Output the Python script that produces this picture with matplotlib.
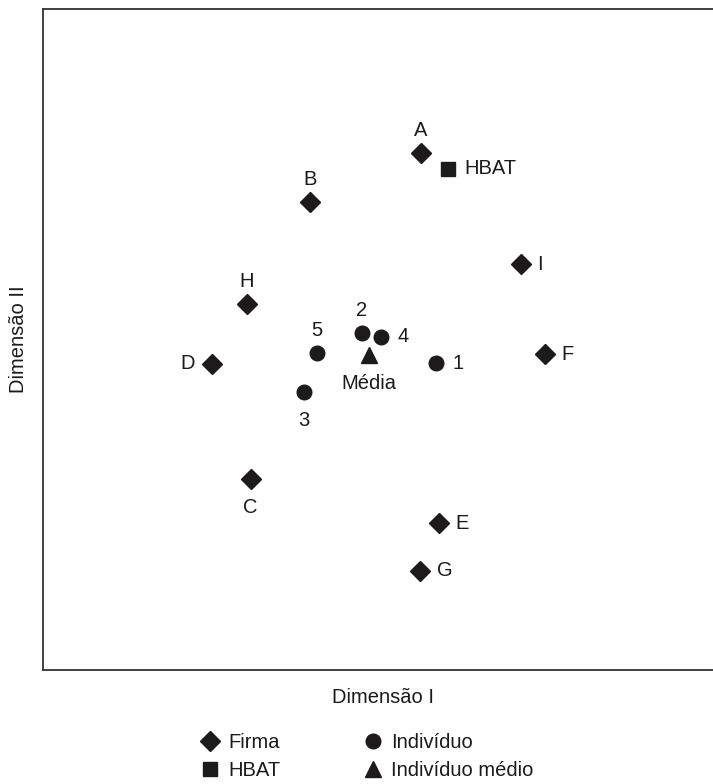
import matplotlib
matplotlib.use('Agg')
import matplotlib.pyplot as plt
from matplotlib.lines import Line2D

plt.rcParams['font.family'] = ['Liberation Sans', 'DejaVu Sans']

# Firm positions (perceptual map)
firm_names = ['A', 'B', 'C', 'D', 'E', 'F', 'G', 'H', 'I']
firm_x = [5.64, 3.99, 3.10, 2.52, 5.91, 7.49, 5.63, 3.04, 7.13]
firm_y = [7.82, 7.08, 2.89, 4.63, 2.22, 4.78, 1.50, 5.54, 6.14]

# HBAT
hbat_x = [6.04]
hbat_y = [7.58]

# Individuals
indiv_names = ['1', '2', '3', '4', '5']
indiv_x = [5.87, 4.76, 3.90, 5.04, 4.09]
indiv_y = [4.64, 5.10, 4.21, 5.04, 4.80]

# Mean individual
mean_x = [4.87]
mean_y = [4.77]

# where each label goes relative to its marker
label_side = {'A': 'up', 'B': 'up', 'C': 'down', 'D': 'left', 'E': 'right',
              'F': 'right', 'G': 'right', 'H': 'up', 'I': 'right',
              '1': 'right', '2': 'up', '3': 'down', '4': 'right', '5': 'up',
              'HBAT': 'right', 'Média': 'down'}

offsets = {'up': ((0, 12), 'center', 'baseline'),
           'down': ((0, -14), 'center', 'top'),
           'left': ((-12, 0), 'right', 'center'),
           'right': ((12, 0), 'left', 'center')}

ink = '#1c1a1a'
fs = 14.5

fig = plt.figure(figsize=(7.13, 7.84), dpi=100)
ax = fig.add_axes([43 / 713, 114 / 784, 680 / 713, 661 / 784])

ax.plot(firm_x, firm_y, 'D', color=ink, ms=10.5, ls='none')
ax.plot(hbat_x, hbat_y, 's', color=ink, ms=10, ls='none')
ax.plot(indiv_x, indiv_y, 'o', color=ink, ms=10.5, ls='none')
ax.plot(mean_x, mean_y, '^', color=ink, ms=11, ls='none')


def put_label(text, x, y):
    off, ha, va = offsets[label_side[text]]
    ax.annotate(text, (x, y), xytext=off, textcoords='offset points',
                ha=ha, va=va, fontsize=fs, color=ink)


for n, x, y in zip(firm_names, firm_x, firm_y):
    put_label(n, x, y)
for n, x, y in zip(indiv_names, indiv_x, indiv_y):
    put_label(n, x, y)
put_label('HBAT', hbat_x[0], hbat_y[0])
put_label('Média', mean_x[0], mean_y[0])

ax.set_xlim(0, 10.15)
ax.set_ylim(0, 10)
ax.set_xticks([])
ax.set_yticks([])
ax.spines['right'].set_visible(False)
for s in ['left', 'top', 'bottom']:
    ax.spines[s].set_color('#333333')
    ax.spines[s].set_linewidth(1.3)

ax.set_xlabel('Dimensão I', fontsize=fs, color=ink)
ax.xaxis.set_label_coords(0.5, -18 / 661)
ax.set_ylabel('Dimensão II', fontsize=fs, color=ink)
ax.yaxis.set_label_coords(-15 / 680, 0.5)

handles = [
    Line2D([], [], marker='D', color=ink, ls='none', ms=10.5),
    Line2D([], [], marker='s', color=ink, ls='none', ms=10),
    Line2D([], [], marker='o', color=ink, ls='none', ms=10.5),
    Line2D([], [], marker='^', color=ink, ls='none', ms=11),
]
labels = ['Firma', 'HBAT', 'Indivíduo', 'Indivíduo médio']
fig.legend(handles, labels, ncol=2, loc='upper left',
           bbox_to_anchor=(199.5 / 713, 1 - 733 / 784),
           borderpad=0, borderaxespad=0,
           frameon=False, fontsize=fs, handlelength=1.0, handletextpad=0.42,
           columnspacing=4.1, labelspacing=0.45, labelcolor=ink)

fig.savefig('out.png', dpi=100)
